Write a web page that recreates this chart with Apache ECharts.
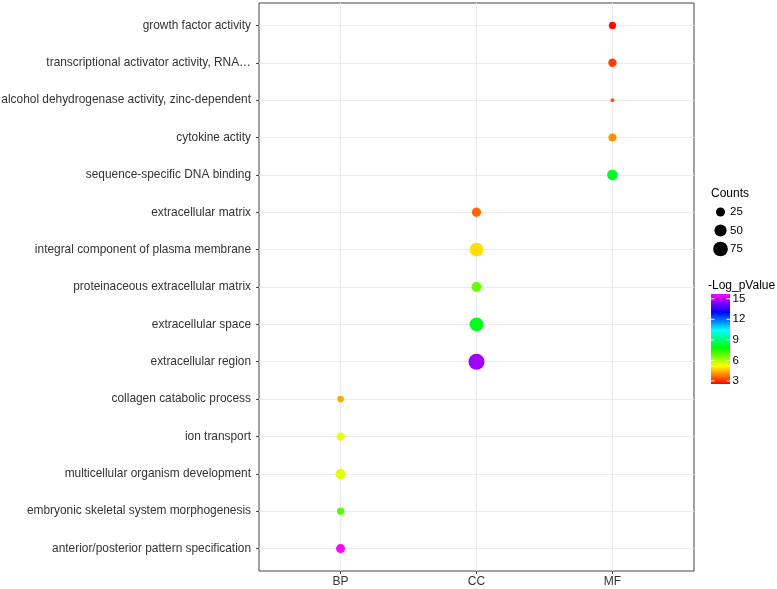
<!DOCTYPE html>
<html><head><meta charset="utf-8">
<script src="https://cdn.jsdelivr.net/npm/echarts@6/dist/echarts.min.js"></script>
<style>html,body{margin:0;padding:0;background:#fff}#c{width:777px;height:589px}</style>
</head><body><div id="c"></div>
<script>
// ---- data (top to bottom, as in the picture) ----
const categories = ['BP', 'CC', 'MF'];
const terms = [
  'growth factor activity',
  'transcriptional activator activity, RNA…',
  'alcohol dehydrogenase activity, zinc-dependent',
  'cytokine actity',
  'sequence-specific DNA binding',
  'extracellular matrix',
  'integral component of plasma membrane',
  'proteinaceous extracellular matrix',
  'extracellular space',
  'extracellular region',
  'collagen catabolic process',
  'ion transport',
  'multicellular organism development',
  'embryonic skeletal system morphogenesis',
  'anterior/posterior pattern specification'
];
const termCategory = ['MF','MF','MF','MF','MF','CC','CC','CC','CC','CC','BP','BP','BP','BP','BP'];
const counts = [15, 21, 3, 19, 37, 27, 64, 32, 67, 90, 12, 19, 34, 15, 25];
const logP = [2.65, 3.21, 3.43, 4.04, 8.2, 3.6, 4.87, 6.76, 8.1, 14.74, 4.30, 5.36, 5.44, 6.93, 15.7];
const countTicks = [25, 50, 75];
const colorTicks = [3, 6, 9, 12, 15];
const colorMin = 2.55, colorMax = 15.7;
const rainbow = ['#ff0000', '#ffff00', '#00ff00', '#00ffff', '#0000ff', '#ff00ff'];

const n = terms.length;
const data = terms.map((t, i) => [categories.indexOf(termCategory[i]), n - 1 - i, logP[i], counts[i], t]);
const sizeOf = v => 1.56 * Math.sqrt(v) + 1.2;

const chart = echarts.init(document.getElementById('c'), null, {renderer: 'canvas'});
const FONT = 'Liberation Sans, Arial, sans-serif';
const LF = '11.5px ' + FONT;

// legend graphics
const g = [];
g.push({type: 'text', x: 711, y: 194, style: {text: 'Counts', font: '12px ' + FONT, fill: '#000', verticalAlign: 'middle'}});
const cy0 = 212, cdy = 18.5;
countTicks.forEach((v, k) => {
  const r = sizeOf(v) / 2;
  g.push({type: 'circle', shape: {cx: 720.5, cy: cy0 + k * cdy, r: r}, style: {fill: '#000'}});
  g.push({type: 'text', x: 730, y: cy0 + k * cdy, style: {text: String(v), font: LF, fill: '#000', verticalAlign: 'middle'}});
});
g.push({type: 'text', x: 708, y: 286, style: {text: '-Log_pValue', font: '12px ' + FONT, fill: '#000', verticalAlign: 'middle'}});
const barTop = 294, barBot = 384, barX = 711, barW = 19;
g.push({type: 'rect', shape: {x: barX, y: barTop, width: barW, height: barBot - barTop},
  style: {fill: new echarts.graphic.LinearGradient(0, 1, 0, 0, rainbow.map((c, k) => ({offset: k / (rainbow.length - 1), color: c})))}});
colorTicks.forEach(v => {
  const y = barBot - (v - colorMin) / (colorMax - colorMin) * (barBot - barTop);
  g.push({type: 'line', shape: {x1: barX, y1: y, x2: barX + 3.5, y2: y}, style: {stroke: '#fff', lineWidth: 1}});
  g.push({type: 'line', shape: {x1: barX + barW - 3.5, y1: y, x2: barX + barW, y2: y}, style: {stroke: '#fff', lineWidth: 1}});
  g.push({type: 'text', x: barX + barW + 2.5, y: y, style: {text: String(v), font: LF, fill: '#000', verticalAlign: 'middle'}});
});

const idxY = Array.from({length: n}, (_, i) => i);
chart.setOption({
  animation: false,
  backgroundColor: '#fff',
  grid: {left: 259, right: 83, top: 3, bottom: 18, show: true, borderColor: '#444', borderWidth: 1,
         containLabel: false, outerBoundsMode: 'none'},
  xAxis: {
    type: 'value', min: -0.6, max: 2.6,
    axisLine: {show: false, onZero: false},
    axisTick: {show: true, customValues: [0, 1, 2], length: 3, lineStyle: {color: '#444'}},
    axisLabel: {customValues: [0, 1, 2], formatter: v => categories[Math.round(v)], color: '#333', fontSize: 12, fontFamily: FONT, margin: 5},
    splitLine: {show: true, lineStyle: {color: '#ebebeb', width: 1}}
  },
  yAxis: {
    type: 'value', min: -0.6, max: n - 1 + 0.6,
    axisLine: {show: false, onZero: false},
    axisTick: {show: true, customValues: idxY, length: 3, lineStyle: {color: '#444'}},
    axisLabel: {customValues: idxY, formatter: v => terms[n - 1 - Math.round(v)], color: '#333', fontSize: 11.9, fontFamily: FONT, margin: 8},
    splitLine: {show: true, lineStyle: {color: '#ebebeb', width: 1}}
  },
  visualMap: {show: false, type: 'continuous', dimension: 2, min: colorMin, max: colorMax, inRange: {color: rainbow}},
  series: [{
    type: 'scatter',
    data: data,
    symbolSize: d => sizeOf(d[3]),
    itemStyle: {opacity: 1}
  }],
  graphic: g
});
</script></body></html>
